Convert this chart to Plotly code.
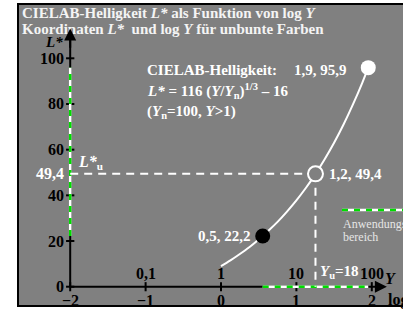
import plotly.graph_objects as go

# ---- data ----
logY_curve = [0.0, 0.125, 0.25, 0.375, 0.5, 0.625, 0.75, 0.875, 1.0, 1.125, 1.25, 1.375, 1.5, 1.625, 1.75, 1.875, 1.953]
L_curve = [9.0, 11.5, 14.3, 17.3, 20.7, 24.4, 28.4, 32.9, 37.8, 43.2, 49.2, 55.8, 63.0, 71.0, 79.8, 89.4, 95.9]

pt_black = (0.553, 22.2)
pt_open = (1.253, 49.4)
pt_white = (1.953, 95.9)

y_ticks = [0, 20, 40, 60, 80, 100]
x_ticks = [-2, -1, 0, 1, 2]
x_top_labels = ["0,1", "1", "10", "100"]
x_top_pos = [-1, 0, 1, 2]

GRAY = "#808080"
GREEN = "#00dd00"
FONT = "Liberation Serif"

OFF = 0
W, H = 403 - OFF, 309 - OFF
X_ORIGIN_PX, X_SCALE = 221.0 - OFF, 75.4
Y_ORIGIN_PX, Y_SCALE = 286.7 - OFF, 2.284
xr = [(0 - X_ORIGIN_PX) / X_SCALE, (W - X_ORIGIN_PX) / X_SCALE]
yr = [(Y_ORIGIN_PX - H) / Y_SCALE, Y_ORIGIN_PX / Y_SCALE]

def px(x):  # window pixel -> paper
    return (x - OFF) / W

def py(y):
    return 1 - (y - OFF) / H

def dx(x):  # window pixel -> data x
    return (x - OFF - X_ORIGIN_PX) / X_SCALE

def dy(y):
    return (Y_ORIGIN_PX - (y - OFF)) / Y_SCALE

fig = go.Figure()

# axes lines
xa0 = x_ticks[0]
fig.add_trace(go.Scatter(x=[xa0, xa0], y=[0, 110], mode="lines",
                         line=dict(color="black", width=2), hoverinfo="skip"))
fig.add_trace(go.Scatter(x=[xa0, 2.15], y=[0, 0], mode="lines",
                         line=dict(color="black", width=2), hoverinfo="skip"))
# ticks
tx, ty = [], []
for t in y_ticks:
    tx += [xa0 - 0.055, xa0 + 0.055, None]
    ty += [t, t, None]
fig.add_trace(go.Scatter(x=tx, y=ty, mode="lines", line=dict(color="black", width=2), hoverinfo="skip"))
tx, ty = [], []
for t in x_ticks:
    tx += [t, t, None]
    ty += [-2.0, 2.0, None]
fig.add_trace(go.Scatter(x=tx, y=ty, mode="lines", line=dict(color="black", width=2), hoverinfo="skip"))

# application range (white + green dashes)
for xs, ys in [([xa0, xa0], [pt_black[1], pt_white[1]]), ([pt_black[0], pt_white[0]], [0, 0])]:
    fig.add_trace(go.Scatter(x=xs, y=ys, mode="lines", line=dict(color="white", width=2.5), hoverinfo="skip"))
    fig.add_trace(go.Scatter(x=xs, y=ys, mode="lines", line=dict(color=GREEN, width=2.5, dash="6px,6px"), hoverinfo="skip"))

# dashed guides at L*u
fig.add_trace(go.Scatter(x=[xa0, pt_open[0]], y=[pt_open[1], pt_open[1]], mode="lines",
                         line=dict(color="white", width=2, dash="8px,6px"), hoverinfo="skip"))
fig.add_trace(go.Scatter(x=[pt_open[0], pt_open[0]], y=[pt_open[1], 0], mode="lines",
                         line=dict(color="white", width=2, dash="8px,6px"), hoverinfo="skip"))

# curve
fig.add_trace(go.Scatter(x=logY_curve, y=L_curve, mode="lines", line=dict(color="white", width=2, shape="spline"),
                         hoverinfo="skip"))

# points
fig.add_trace(go.Scatter(x=[pt_black[0]], y=[pt_black[1]], mode="markers",
                         marker=dict(size=15, color="black", line=dict(width=0))))
fig.add_trace(go.Scatter(x=[pt_open[0]], y=[pt_open[1]], mode="markers",
                         marker=dict(size=15, color=GRAY, line=dict(width=2, color="white"))))
fig.add_trace(go.Scatter(x=[pt_white[0]], y=[pt_white[1]], mode="markers",
                         marker=dict(size=15, color="white", line=dict(width=0))))

# legend sample line
fig.add_trace(go.Scatter(x=[dx(342), xr[1] + 0.1], y=[dy(210)] * 2,
                         mode="lines", line=dict(color="white", width=2.5), hoverinfo="skip"))
fig.add_trace(go.Scatter(x=[dx(342), xr[1] + 0.1], y=[dy(210)] * 2,
                         mode="lines", line=dict(color=GREEN, width=2.5, dash="6px,6px"), hoverinfo="skip"))

ann = []

def A(text, x, y, xanchor="center", yanchor="middle", size=15, color="white", xref="x", yref="y", **kw):
    ann.append(dict(text=text, x=x, y=y, xref=xref, yref=yref, xanchor=xanchor, yanchor=yanchor,
                    showarrow=False, font=dict(family=FONT, size=size, color=color), **kw))

# title
A("<b>CIELAB-Helligkeit <i>L*</i> als Funktion von log <i>Y</i></b>", px(20), py(13), "left", size=15,
  color="#f4f4f4", xref="paper", yref="paper")
A("<b>Koordinaten <i>L*</i>  und log <i>Y</i> für unbunte Farben</b>", px(20), py(29), "left", size=15,
  color="#f4f4f4", xref="paper", yref="paper")

# y tick labels
for t in y_ticks:
    A(f"<b>{t}</b>", xa0 - 0.06, t, "right", size=16, color="black")
A("<b>49,4</b>", xa0 - 0.06, pt_open[1], "right", size=16, color="white")
A("<b><i>L*</i></b>", px(54), py(42), size=15, color="black", xref="paper", yref="paper")
A("<b><i>L*</i><sub>u</sub></b>", xa0 + 0.08, pt_open[1] + 4.8, "left", size=16, color="white")

# x tick labels
for t in x_ticks:
    A(f"<b>{'−' if t < 0 else ''}{abs(t)}</b>", t, dy(300), size=16, color="black")
for t, lab in zip(x_top_pos, x_top_labels):
    A(f"<b>{lab}</b>", t, dy(273), size=16, color="black")
A("<b><i>Y</i></b>", px(390), py(278), size=16, color="black", xref="paper", yref="paper")
A("<b>log</b>", px(386), py(300), "left", size=16, color="black", xref="paper", yref="paper")
A("<b><i>Y</i><sub>u</sub>=18</b>", dx(318), dy(272), "left", size=15, color="white")

# point labels
A("<b>0,5, 22,2</b>", dx(253), pt_black[1], "right", size=15)
A("<b>1,2, 49,4</b>", dx(327), pt_open[1], "left", size=15)
A("<b>1,9, 95,9</b>", dx(349), dy(70), "right", size=15)

# formula block
A("<b>CIELAB-Helligkeit:</b>", px(145), py(70), "left", size=15, xref="paper", yref="paper")
A("<b><i>L*</i> = 116 (<i>Y</i>/<i>Y</i><sub>n</sub>)<sup>1/3</sup> – 16</b>", px(145), py(91), "left", size=15,
  xref="paper", yref="paper")
A("<b>(<i>Y</i><sub>n</sub>=100, <i>Y</i>>1)</b>", px(145), py(112), "left", size=15, xref="paper", yref="paper")

# legend text
A("Anwendungs", px(341), py(224), "left", size=12, color="#e6e6e6", xref="paper", yref="paper")
A("bereich", px(341), py(237), "left", size=12, color="#e6e6e6", xref="paper", yref="paper")

# arrow heads
ann.append(dict(x=xa0, y=113, ax=xa0, ay=104, xref="x", yref="y", axref="x", ayref="y", text="",
                showarrow=True, arrowhead=2, arrowsize=1.2, arrowwidth=2, arrowcolor="black", standoff=0))
ann.append(dict(x=2.2, y=0, ax=2.08, ay=0, xref="x", yref="y", axref="x", ayref="y", text="",
                showarrow=True, arrowhead=2, arrowsize=1.2, arrowwidth=2, arrowcolor="black", standoff=0))

fig.update_layout(
    width=W, height=H, autosize=False,
    margin=dict(l=0, r=0, t=0, b=0),
    paper_bgcolor="white", plot_bgcolor="white",
    showlegend=False,
    xaxis=dict(range=xr, visible=False, fixedrange=True),
    yaxis=dict(range=yr, visible=False, fixedrange=True),
    annotations=ann,
    shapes=[dict(type="rect", xref="paper", yref="paper", x0=px(18), x1=1.1, y0=py(306), y1=py(4),
                 fillcolor=GRAY, line=dict(color="black", width=2), layer="below")],
)

fig.write_html("out.html", config={"displayModeBar": False},
               post_script="document.body.style.margin='0px';document.body.style.overflow='hidden';")
